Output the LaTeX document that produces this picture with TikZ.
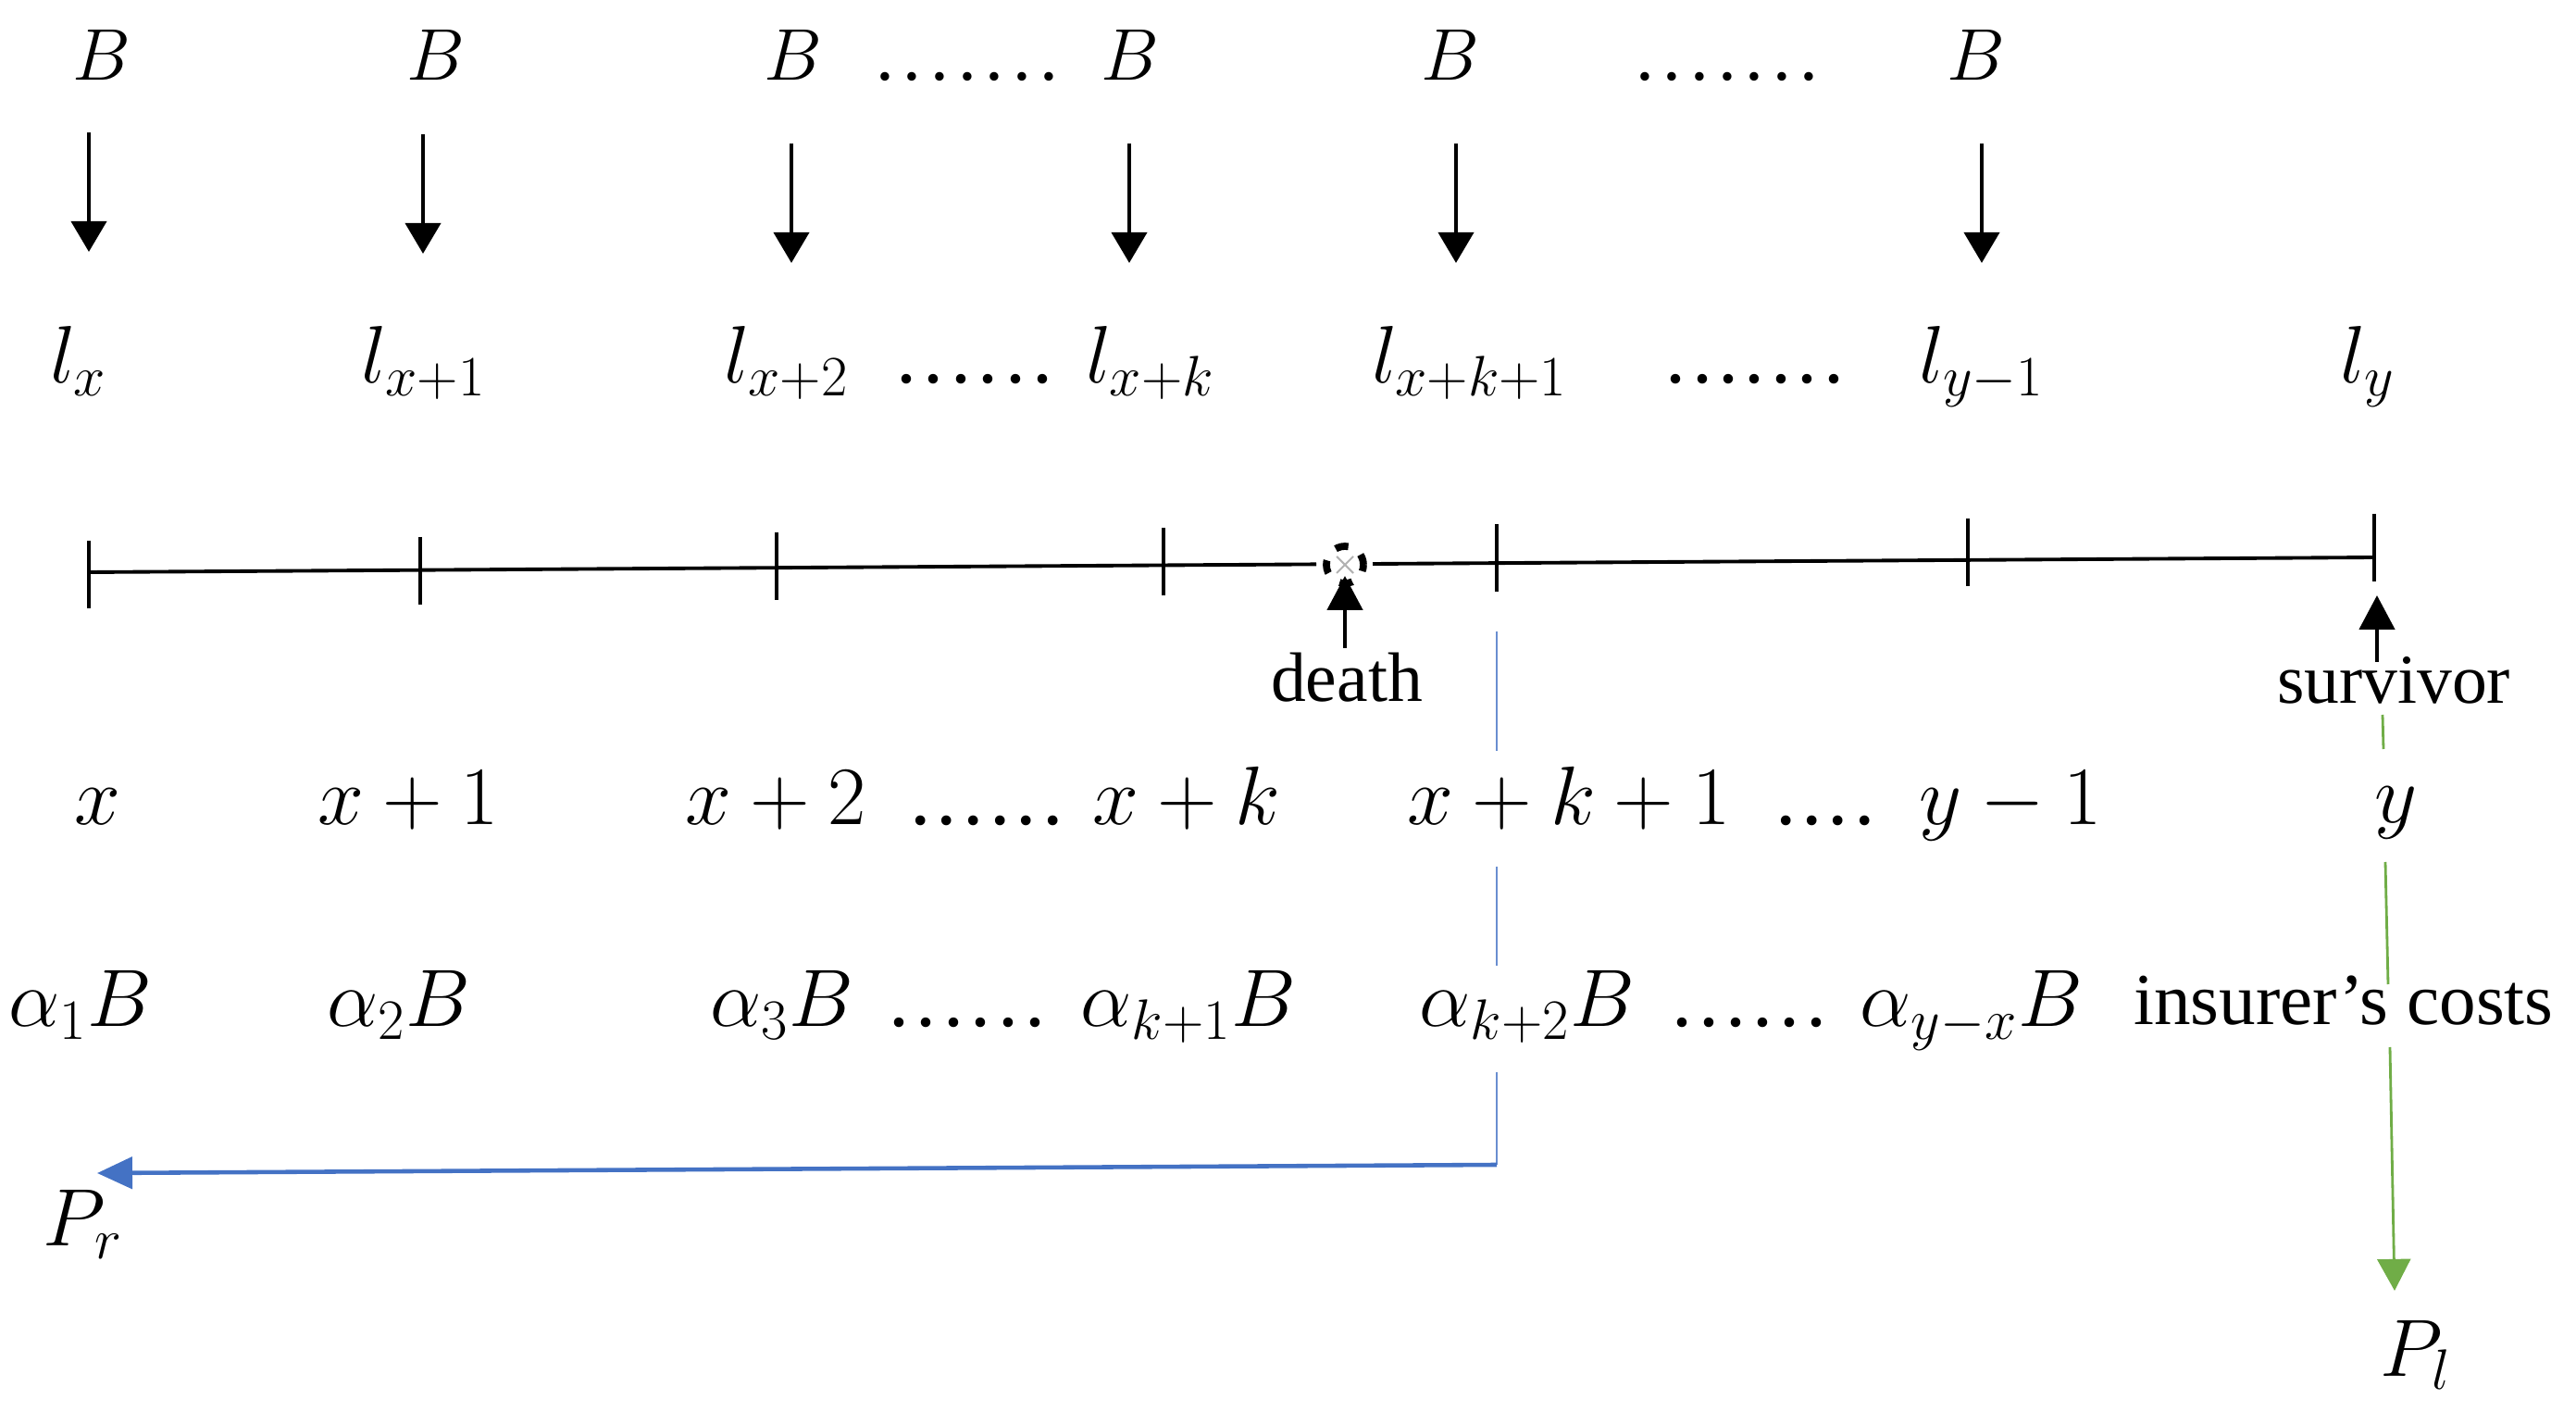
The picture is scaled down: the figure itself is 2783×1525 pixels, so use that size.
\RequirePackage{fix-cm}
\documentclass[tikz,border=0pt]{standalone}
\usepackage{fontspec}
\setmainfont{Liberation Serif}
\usetikzlibrary{arrows.meta}
\definecolor{pblue}{RGB}{68,114,196}
\definecolor{pgreen}{RGB}{112,173,71}
\newcommand\mydts[2]{\makebox[#2]{.\foreach\i in {2,...,#1}{\hfill.}}}
\begin{document}
\begin{tikzpicture}[x=0.01cm,y=-0.01cm,
  brow/.style={anchor=base,inner sep=0pt,font=\fontsize{22.5}{26}\selectfont},
  lrow/.style={anchor=base,inner sep=0pt,font=\fontsize{25}{29}\selectfont},
  xrow/.style={anchor=base,inner sep=0pt,font=\fontsize{25.5}{29}\selectfont},
  arow/.style={anchor=base,inner sep=0pt,font=\fontsize{25}{29}\selectfont},
  lbl/.style={anchor=base,inner sep=0pt,font=\fontsize{21.5}{25}\selectfont},
  darrow/.style={line width=1.2pt,-{Triangle[length=9.4pt,width=10.8pt]}},
  uparrow/.style={line width=1.3pt,-{Triangle[length=10.5pt,width=10.8pt]}},
  axisline/.style={line width=1.1pt},
  tickline/.style={line width=1pt},
  bluev/.style={pblue!80,line width=0.8pt},
  blueh/.style={pblue,line width=1.3pt,-{Triangle[length=10.8pt,width=9.7pt]}},
  greenl/.style={pgreen,line width=0.8pt},
]
\useasboundingbox (0,0) rectangle (2783,1525);

% row B
\node[brow] (b1) at (110,87) {$B$};
\node[brow] (b2) at (471,87) {$B$};
\node[brow] (b3) at (857,87) {$B$};
\node[brow] (bd1) at (1045,87) {\mydts{7}{1.97cm}};
\node[brow] (b4) at (1221,87) {$B$};
\node[brow] (b5) at (1567,87) {$B$};
\node[brow] (bd2) at (1866,87) {\mydts{7}{1.97cm}};
\node[brow] (b6) at (2135,87) {$B$};

% arrows down
\coordinate (a1s) at (96,143);  \coordinate (a1e) at (96,272);
\coordinate (a2s) at (457,145); \coordinate (a2e) at (457,274);
\coordinate (a3s) at (855,155); \coordinate (a3e) at (855,284);
\coordinate (a4s) at (1220,155); \coordinate (a4e) at (1220,284);
\coordinate (a5s) at (1573,155); \coordinate (a5e) at (1573,284);
\coordinate (a6s) at (2141,155); \coordinate (a6e) at (2141,284);
\foreach \k in {1,...,6} {\draw[darrow] (a\k s) -- (a\k e);}

% row l
\node[lrow] (l1) at (85,414) {$l_x$};
\node[lrow] (l2) at (458,414) {$l_{x+1}$};
\node[lrow] (l3) at (850,414) {$l_{x+2}$};
\node[lrow] (ld1) at (1053,414) {\mydts{6}{1.69cm}};
\node[lrow] (l4) at (1243,414) {$l_{x+k}$};
\node[lrow] (l5) at (1588,414) {$l_{x+k+1}$};
\node[lrow] (ld2) at (1896,414) {\mydts{7}{1.92cm}};
\node[lrow] (l6) at (2141,414) {$l_{y-1}$};
\node[lrow] (l7) at (2558,414) {$l_y$};

% timeline
\coordinate (t0) at (96,618);
\coordinate (tdl) at (1422,609.4);
\coordinate (tdr) at (1483,609.0);
\coordinate (tend) at (2565,602);
\draw[axisline] (t0) -- (tdl);
\draw[axisline] (tdr) -- (tend);
\foreach \xx/\yt in {96/584,454/579.8,839/575.3,1257/570.4,1617/566.1,2126/560.1,2565/555}
  {\draw[tickline] (\xx,\yt) -- (\xx,\yt+73);}
% death marker
\coordinate (dm) at (1453,610);
\draw[line width=2.2pt,dash pattern=on 4pt off 4.6pt,dash phase=2pt] (dm) circle[radius=20];
\draw[gray!60,line width=0.6pt] (1444,601) -- (1462,619) (1444,619) -- (1462,601);

% death / survivor
\coordinate (ds) at (1453,700); \coordinate (de) at (1453,622);
\draw[uparrow] (ds) -- (de);
\node[lbl] (death) at (1455,758) {death};
\coordinate (ss) at (2568,715); \coordinate (se) at (2568,643);
\draw[uparrow] (ss) -- (se);
\node[lbl] (surv) at (2586,760) {survivor};

% row x
\node[xrow] (x1) at (105,891) {$x$};
\node[xrow] (x2) at (441,891) {$x+1$};
\node[xrow] (x3) at (838,891) {$x+2$};
\node[xrow] (xd1) at (1066,891) {\mydts{6}{1.65cm}};
\node[xrow] (x4) at (1282,891) {$x+k$};
\node[xrow] (x5) at (1695,891) {$x+k+1$};
\node[xrow] (xd2) at (1972,891) {\mydts{4}{1.07cm}};
\node[xrow] (x6) at (2172,891) {$y-1$};
\node[xrow] (x7) at (2588,889) {$y$};

% row alpha
\node[arow] (c1) at (87,1109) {$\alpha_1 B$};
\node[arow] (c2) at (431,1109) {$\alpha_2 B$};
\node[arow] (c3) at (845,1109) {$\alpha_3 B$};
\node[arow] (cd1) at (1045,1109) {\mydts{6}{1.69cm}};
\node[arow] (c4) at (1284,1109) {$\alpha_{k+1} B$};
\node[arow] (c5) at (1650,1109) {$\alpha_{k+2} B$};
\node[arow] (cd2) at (1890,1109) {\mydts{6}{1.67cm}};
\node[arow] (c6) at (2130,1109) {$\alpha_{y-x} B$};
\node[lbl,font=\fontsize{22.5}{26}\selectfont] (cost) at (2532,1107) {insurer’s costs};

% P labels
\node[arow] (pr) at (90,1346) {$P_r$};
\node[arow] (pl) at (2610,1487) {$P_l$};

% blue connector
\coordinate (bv0) at (1617,682);
\coordinate (bv1) at (1617,811);
\coordinate (bv2) at (1617,936);
\coordinate (bv3) at (1617,1043);
\coordinate (bv4) at (1617,1158);
\coordinate (bc) at (1617,1258);
\coordinate (btip) at (105,1267);
\draw[bluev] (bv0) -- (bv1) (bv2) -- (bv3) (bv4) -- (bc);
\draw[blueh] (bc) -- (btip);

% green connector
\coordinate (g0) at (2574,772);
\coordinate (g1) at (2575,809);
\coordinate (g2) at (2577,931);
\coordinate (g3) at (2580,1063);
\coordinate (g4) at (2582,1131);
\coordinate (gtip) at (2587,1394);
\draw[greenl] (g0) -- (g1) (g2) -- (g3);
\draw[greenl,-{Triangle[length=9.7pt,width=10.2pt]}] (g4) -- (gtip);
\end{tikzpicture}
\end{document}
